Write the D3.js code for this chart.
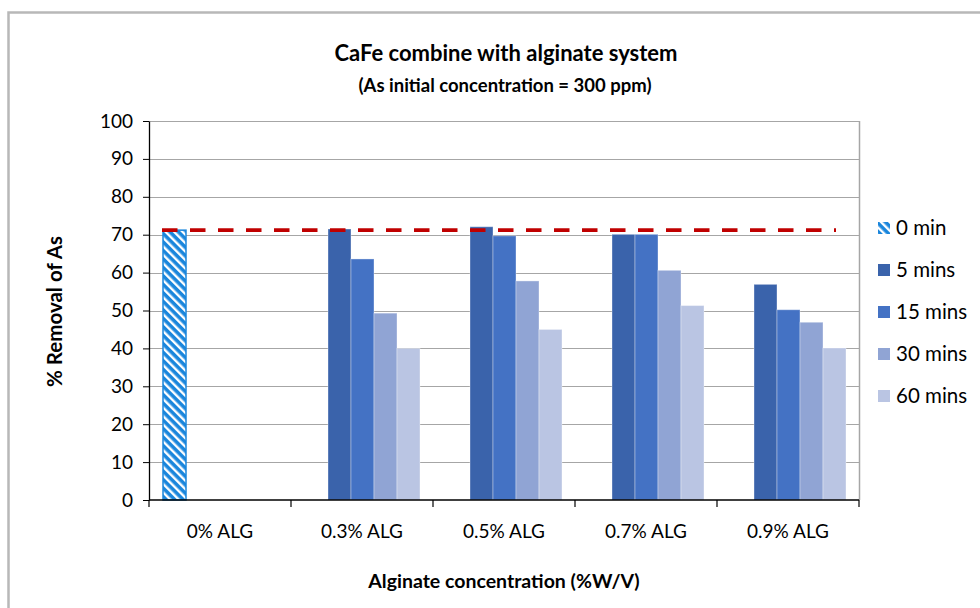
<!DOCTYPE html>
<html>
<head>
<meta charset="utf-8">
<script src="https://cdn.jsdelivr.net/npm/d3@7/dist/d3.min.js"></script>
<style>
  html, body { margin: 0; padding: 0; background: #fff; }
  svg { display: block; font-family: Lato, "Open Sans", sans-serif; }
</style>
</head>
<body>
<svg id="chart" width="980" height="608"></svg>
<script>
// Alginate concentrations on the x axis
const categories = ["0% ALG", "0.3% ALG", "0.5% ALG", "0.7% ALG", "0.9% ALG"];
// Contact-time series
const seriesNames = ["0 min", "5 mins", "15 mins", "30 mins", "60 mins"];
// % removal of As for each series, one value per category (null = no bar)
const min0   = [71.2, null, null, null, null];
const mins5  = [null, 71.5, 72.1, 70.1, 56.9];
const mins15 = [null, 63.6, 69.7, 70.1, 50.2];
const mins30 = [null, 49.3, 57.8, 60.6, 46.9];
const mins60 = [null, 40.0, 45.0, 51.3, 40.1];
// Reference level (removal at 0 min)
const referenceLevel = 71.2;
const yTicks = [0, 10, 20, 30, 40, 50, 60, 70, 80, 90, 100];

const seriesValues = [min0, mins5, mins15, mins30, mins60];
const colors = ["url(#hatch)", "#3a63ab", "#4472c4", "#90a4d4", "#bac5e3"];

const svg = d3.select("#chart");
const plot = { left: 149, top: 121, right: 859, bottom: 500 };

// outer chart frame
svg.append("rect")
  .attr("x", 8.5).attr("y", 12.5)
  .attr("width", 990).attr("height", 620)
  .attr("fill", "none").attr("stroke", "#b8b8b8").attr("stroke-width", 2.5);

// hatch pattern for the 0 min bar
const defs = svg.append("defs");
const pat = defs.append("pattern")
  .attr("id", "hatch")
  .attr("patternUnits", "userSpaceOnUse")
  .attr("width", 6).attr("height", 6)
  .attr("patternTransform", "rotate(-45)");
pat.append("rect").attr("width", 6).attr("height", 6).attr("fill", "#1a86dc");
pat.append("rect").attr("x", 0).attr("width", 2.4).attr("height", 6).attr("fill", "#ffffff");

const x0 = d3.scaleBand().domain(categories).range([plot.left, plot.right]).padding(0);
// inner group: bars fill the band except a small gap on each side
const x1 = d3.scaleBand().domain(seriesNames).range([14, x0.bandwidth() - 13]).padding(0);
const y = d3.scaleLinear().domain([0, 100]).range([plot.bottom, plot.top]);

// gridlines
svg.append("g")
  .selectAll("line")
  .data(yTicks.filter(d => d > 0))
  .join("line")
  .attr("x1", plot.left).attr("x2", plot.right)
  .attr("y1", d => Math.round(y(d)) + 0.5).attr("y2", d => Math.round(y(d)) + 0.5)
  .attr("stroke", "#a6a6a6").attr("stroke-width", 1);

// right border of plot area
svg.append("line")
  .attr("x1", plot.right + 0.5).attr("x2", plot.right + 0.5)
  .attr("y1", plot.top).attr("y2", plot.bottom)
  .attr("stroke", "#a6a6a6").attr("stroke-width", 1.5);

// bars
const bars = [];
seriesValues.forEach((vals, si) => {
  vals.forEach((v, ci) => {
    if (v !== null) bars.push({ cat: categories[ci], series: seriesNames[si], si, v });
  });
});
svg.append("g")
  .selectAll("rect")
  .data(bars)
  .join("rect")
  .attr("x", d => x0(d.cat) + x1(d.series))
  .attr("y", d => y(d.v))
  .attr("width", x1.bandwidth())
  .attr("height", d => y(0) - y(d.v))
  .attr("fill", d => colors[d.si])
  .attr("stroke", d => d.si === 0 ? "#1a86dc" : "rgba(255,255,255,0.35)")
  .attr("stroke-width", d => d.si === 0 ? 1.5 : 1);

// dashed reference line
const refX1 = x0(categories[0]) + x1(seriesNames[0]) - 1;
const refX2 = x0(categories[4]) + x1(seriesNames[4]) + x1.bandwidth() - 10;
svg.append("line")
  .attr("x1", refX1).attr("x2", refX2)
  .attr("y1", y(referenceLevel)).attr("y2", y(referenceLevel))
  .attr("stroke", "#c00000").attr("stroke-width", 3.8)
  .attr("stroke-dasharray", "15.5,12.5");

// y axis
const yAxis = svg.append("g")
  .attr("transform", `translate(${plot.left},0)`)
  .call(d3.axisLeft(y).tickValues(yTicks).tickSize(6).tickPadding(10).tickSizeOuter(0));
yAxis.select(".domain").attr("stroke", "#000").attr("stroke-width", 1.3);
yAxis.selectAll(".tick line").attr("stroke", "#000");
yAxis.selectAll("text").attr("font-size", 19).attr("fill", "#000")
  .attr("font-family", "Lato, sans-serif");

// x axis with ticks between categories
const xAxisG = svg.append("g").attr("transform", `translate(0,${plot.bottom})`);
xAxisG.append("line")
  .attr("x1", plot.left).attr("x2", plot.right)
  .attr("stroke", "#000").attr("stroke-width", 1.3);
const boundaries = categories.map(c => x0(c)).concat([x0(categories[4]) + x0.bandwidth()]);
xAxisG.selectAll("line.tk")
  .data(boundaries)
  .join("line")
  .attr("class", "tk")
  .attr("x1", d => d).attr("x2", d => d)
  .attr("y1", 0).attr("y2", 7)
  .attr("stroke", "#000").attr("stroke-width", 1.2);
xAxisG.selectAll("text")
  .data(categories)
  .join("text")
  .attr("x", d => x0(d) + x0.bandwidth() / 2)
  .attr("y", 38)
  .attr("text-anchor", "middle")
  .attr("font-size", 19)
  .text(d => d);

// titles
svg.append("text")
  .attr("x", 506).attr("y", 61)
  .attr("text-anchor", "middle")
  .attr("font-size", 22).attr("font-weight", "bold")
  .text("CaFe combine with alginate system");
svg.append("text")
  .attr("x", 505).attr("y", 92)
  .attr("text-anchor", "middle")
  .attr("font-size", 18.5).attr("font-weight", "bold")
  .text("(As initial concentration = 300 ppm)");
svg.append("text")
  .attr("x", (plot.left + plot.right) / 2).attr("y", 588)
  .attr("text-anchor", "middle")
  .attr("font-size", 19.5).attr("font-weight", "bold")
  .text("Alginate concentration (%W/V)");
svg.append("text")
  .attr("transform", `translate(62,${(plot.top + plot.bottom) / 2 + 1}) rotate(-90)`)
  .attr("text-anchor", "middle")
  .attr("font-size", 20.5).attr("font-weight", "bold")
  .text("% Removal of As");

// legend
const legend = svg.append("g").attr("transform", "translate(878,0)");
const legendY = d3.scalePoint().domain(seriesNames).range([228, 396]);
legend.selectAll("rect")
  .data(seriesNames)
  .join("rect")
  .attr("x", 0).attr("y", d => legendY(d) - 6)
  .attr("width", 12).attr("height", 12)
  .attr("fill", (d, i) => colors[i]);
legend.selectAll("text")
  .data(seriesNames)
  .join("text")
  .attr("x", 18).attr("y", d => legendY(d) + 7)
  .attr("font-size", 20.5)
  .text(d => d);
</script>
</body>
</html>
